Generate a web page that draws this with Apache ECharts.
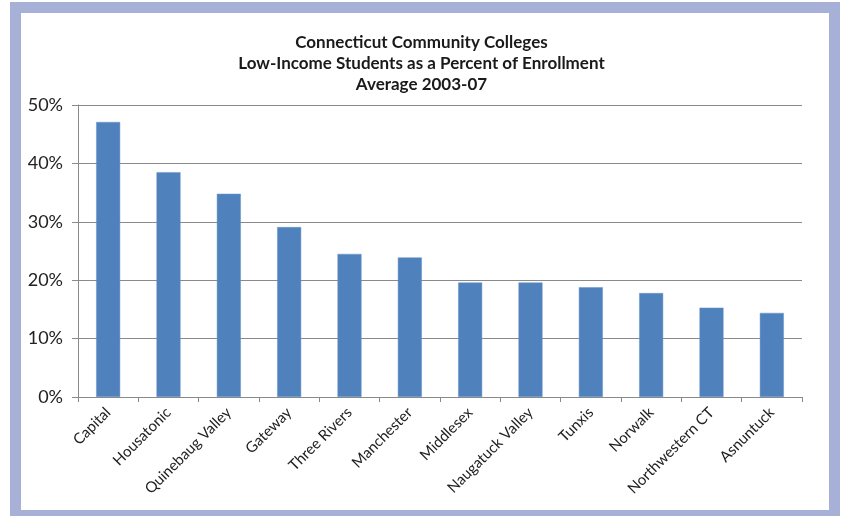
<!DOCTYPE html>
<html>
<head>
<meta charset="utf-8">
<script src="https://cdn.jsdelivr.net/npm/echarts@6/dist/echarts.min.js"></script>
<style>
html,body{margin:0;padding:0;background:#fff;}
#chart{width:843px;height:516px;}
</style>
</head>
<body>
<div id="chart"></div>
<script>
const titleLines = ["Connecticut Community Colleges", "Low-Income Students as a Percent of Enrollment", "Average 2003-07"];
const categories = ["Capital", "Housatonic", "Quinebaug Valley", "Gateway", "Three Rivers", "Manchester", "Middlesex", "Naugatuck Valley", "Tunxis", "Norwalk", "Northwestern CT", "Asnuntuck"];
const lowIncomePct = [47.1, 38.5, 34.8, 29.1, 24.5, 23.9, 19.6, 19.6, 18.8, 17.8, 15.3, 14.4];
const yTicks = { min: 0, max: 50, interval: 10 };

const chart = echarts.init(document.getElementById('chart'), null, { renderer: 'canvas' });
const font = 'Lato, "Liberation Sans", sans-serif';
chart.setOption({
  backgroundColor: '#ffffff',
  animation: false,
  graphic: [{
    type: 'rect',
    z: -10,
    silent: true,
    shape: { x: 15.5, y: 7.5, width: 819, height: 508 },
    style: { fill: '#ffffff', stroke: '#a7b0d6', lineWidth: 11 }
  }],
  title: {
    text: titleLines.join('\n'),
    left: 'center',
    top: 27,
    textStyle: { fontFamily: font, fontWeight: 'bold', fontSize: 17, lineHeight: 21, color: '#1a1a1a' }
  },
  grid: { left: 78, right: 41, top: 105, bottom: 119, containLabel: false },
  xAxis: {
    type: 'category',
    data: categories,
    axisLine: { lineStyle: { color: '#8a8a8a', width: 1 } },
    axisTick: { show: true, alignWithLabel: false, length: 5, lineStyle: { color: '#8a8a8a' } },
    axisLabel: { rotate: 45, interval: 0, margin: 13, fontFamily: font, fontSize: 15, color: '#222' }
  },
  yAxis: {
    type: 'value',
    min: yTicks.min, max: yTicks.max, interval: yTicks.interval,
    axisLine: { show: true, lineStyle: { color: '#8a8a8a', width: 1 } },
    axisTick: { show: true, length: 6, lineStyle: { color: '#8a8a8a' } },
    axisLabel: { formatter: '{value}%', margin: 15, fontFamily: font, fontSize: 18, color: '#222' },
    splitLine: { show: true, lineStyle: { color: '#8a8a8a', width: 1 } }
  },
  series: [{
    type: 'bar',
    data: lowIncomePct,
    barWidth: 24,
    itemStyle: { color: '#4f81bd', borderColor: '#6b95c8', borderWidth: 0.5 }
  }]
});
</script>
</body>
</html>
